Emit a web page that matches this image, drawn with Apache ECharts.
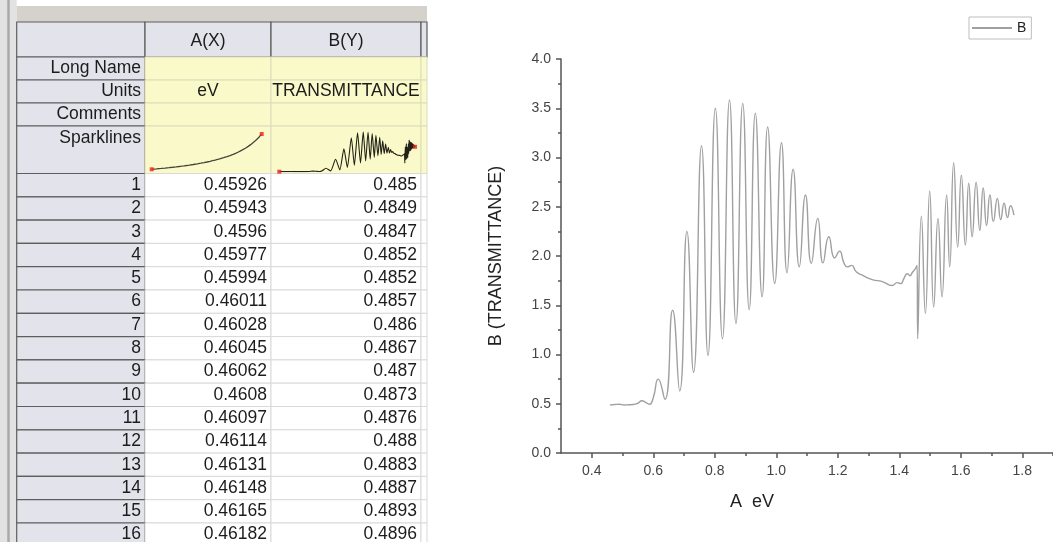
<!DOCTYPE html>
<html>
<head>
<meta charset="utf-8">
<style>
  html, body { margin: 0; padding: 0; background: #ffffff; }
  #chart { width: 1053px; height: 542px; }
</style>
<script src="https://cdn.jsdelivr.net/npm/echarts@6/dist/echarts.min.js"></script>
</head>
<body>
<div id="chart"></div>
<script>
// Photon energy (eV) and transmittance; the first 16 rows are also listed in the worksheet.
const eV = [
  0.45926, 0.45943, 0.4596, 0.45977, 0.45994, 0.46011, 0.46028, 0.46045,
  0.46062, 0.4608, 0.46097, 0.46114, 0.46131, 0.46148, 0.46165, 0.46182,
  0.475, 0.49, 0.505, 0.52, 0.535, 0.55, 0.563, 0.575, 0.588, 0.60,
  0.616, 0.638, 0.663, 0.686, 0.7095, 0.731, 0.757, 0.778, 0.802, 0.825,
  0.848, 0.869, 0.891, 0.912, 0.932, 0.954, 0.972, 0.995, 1.017, 1.035,
  1.055, 1.075, 1.095, 1.114, 1.135, 1.152, 1.171, 1.19, 1.206, 1.22,
  1.231, 1.245, 1.26, 1.28, 1.312, 1.345, 1.377, 1.393, 1.405, 1.415,
  1.426, 1.435, 1.442, 1.452, 1.458, 1.46, 1.472, 1.485, 1.499, 1.512,
  1.526, 1.539, 1.554, 1.564, 1.577, 1.59, 1.602, 1.615, 1.626, 1.637,
  1.65, 1.662, 1.673, 1.684, 1.695, 1.706, 1.719, 1.73, 1.741, 1.752,
  1.762, 1.773
];
const transmittance = [
  0.485, 0.4849, 0.4847, 0.4852, 0.4852, 0.4857, 0.486, 0.4867,
  0.487, 0.4873, 0.4876, 0.488, 0.4883, 0.4887, 0.4893, 0.4896,
  0.492, 0.495, 0.488, 0.49, 0.492, 0.505, 0.53, 0.515, 0.495, 0.56,
  0.75, 0.545, 1.45, 0.63, 2.25, 0.82, 3.12, 0.99, 3.50, 1.16,
  3.585, 1.315, 3.55, 1.455, 3.45, 1.585, 3.31, 1.72, 3.15, 1.83,
  2.88, 1.89, 2.62, 1.925, 2.38, 1.93, 2.195, 1.98, 2.05, 1.93,
  1.89, 1.905, 1.84, 1.805, 1.76, 1.74, 1.70, 1.73, 1.72, 1.77,
  1.82, 1.80, 1.83, 1.87, 1.905, 1.16, 2.405, 1.417, 2.66, 1.48,
  2.38, 1.585, 2.62, 1.89, 2.947, 2.09, 2.82, 2.11, 2.74, 2.195,
  2.75, 2.26, 2.69, 2.31, 2.62, 2.35, 2.585, 2.37, 2.535, 2.39,
  2.51, 2.415
];

// Worksheet contents
const tableRowCount = 16;
const columnHeaders = ['A(X)', 'B(Y)'];
const metaLabels = ['Long Name', 'Units', 'Comments', 'Sparklines'];
const unitsRow = ['eV', 'TRANSMITTANCE'];

// Axis ticks of the plot
const xLabelTicks = [0.4, 0.6, 0.8, 1.0, 1.2, 1.4, 1.6, 1.8];
const xMinorTicks = [0.5, 0.7, 0.9, 1.1, 1.3, 1.5, 1.7, 1.9];

const FONT = '"Liberation Sans", Arial, sans-serif';

// ---- worksheet drawn as graphic elements ----
const colEdges = [16.7, 145, 271, 421, 427];
const headerTop = 22, headerBottom = 57;
const metaEdges = [57, 80, 103, 126, 173.5];
const rowTop = 173.5, rowH = 23.3;

const HEAD_FILL = '#e3e3eb', HEAD_STROKE = '#5e5e5e';
const META_FILL = '#f9f9c9', META_STROKE = '#dcdcbc';
const CELL_STROKE = '#d9d9d9';

function rect(x, y, w, h, fill, stroke, lw) {
  return { type: 'rect', silent: true, z: 0,
    shape: { x: x, y: y, width: w, height: h },
    style: { fill: fill, stroke: stroke || null, lineWidth: lw || 1 } };
}
function text(x, y, str, align, vAlign) {
  return { type: 'text', silent: true, z: 1, x: x, y: y,
    style: { text: str, fill: '#1c1c1c', font: '17.5px ' + FONT,
      align: align, verticalAlign: vAlign || 'middle',
      textAlign: align, textVerticalAlign: vAlign || 'middle' } };
}

const els = [];
// window frame on the left and above the sheet
els.push(rect(0, 0, colEdges[0], 542, '#e2e2e2'));
els.push({ type: 'line', silent: true, z: 0, shape: { x1: 8.5, y1: 0, x2: 8.5, y2: 542 },
  style: { stroke: '#a9a9a9', lineWidth: 2.5 } });
els.push(rect(colEdges[0], 6, colEdges[4] - colEdges[0], headerTop - 6, '#d5d2cc'));

// column header row
for (let c = 0; c < 4; c++) {
  els.push(rect(colEdges[c], headerTop, colEdges[c + 1] - colEdges[c], headerBottom - headerTop,
    HEAD_FILL, HEAD_STROKE, 1.2));
}
columnHeaders.forEach(function (h, i) {
  els.push(text((colEdges[i + 1] + colEdges[i + 2]) / 2, 41, h, 'center'));
});

// label rows (Long Name, Units, Comments, Sparklines)
metaLabels.forEach(function (lab, r) {
  const y0 = metaEdges[r], y1 = metaEdges[r + 1];
  els.push(rect(colEdges[0], y0, colEdges[1] - colEdges[0], y1 - y0, HEAD_FILL, HEAD_STROKE, 1.2));
  for (let c = 1; c < 4; c++) {
    els.push(rect(colEdges[c], y0, colEdges[c + 1] - colEdges[c], y1 - y0, META_FILL, META_STROKE, 1));
  }
  if (lab === 'Sparklines') {
    els.push(text(colEdges[1] - 4, y0 + 3, lab, 'right', 'top'));
  } else {
    els.push(text(colEdges[1] - 4, (y0 + y1) / 2, lab, 'right'));
  }
});
unitsRow.forEach(function (u, i) {
  els.push(text((colEdges[i + 1] + colEdges[i + 2]) / 2, (metaEdges[1] + metaEdges[2]) / 2, u, 'center'));
});

// data rows
for (let r = 0; r < tableRowCount; r++) {
  const y0 = rowTop + r * rowH;
  els.push(rect(colEdges[0], y0, colEdges[1] - colEdges[0], rowH, HEAD_FILL, HEAD_STROKE, 1.2));
  for (let c = 1; c < 4; c++) {
    els.push(rect(colEdges[c], y0, colEdges[c + 1] - colEdges[c], rowH, '#ffffff', CELL_STROKE, 1));
  }
  const yc = y0 + rowH / 2;
  els.push(text(colEdges[1] - 4, yc, String(r + 1), 'right'));
  els.push(text(colEdges[2] - 4, yc, String(eV[r]), 'right'));
  els.push(text(colEdges[3] - 4, yc, String(transmittance[r]), 'right'));
}

// ---- series data ----
const mainData = eV.map(function (e, i) { return [e, transmittance[i]]; });
// sparklines run along the worksheet rows, which step evenly in wavelength (nm)
const sparkA = eV.map(function (e) { return [1240 / e, e]; });
const sparkB = eV.map(function (e, i) { return [1240 / e, transmittance[i]]; });
const last = eV.length - 1;

const chart = echarts.init(document.getElementById('chart'), null, { renderer: 'canvas' });

const axisLineStyle = { color: '#555', width: 1.5 };
const hiddenAxis = { show: false, type: 'value', scale: true, min: 'dataMin', max: 'dataMax' };

chart.setOption({
  animation: false,
  backgroundColor: '#ffffff',
  textStyle: { fontFamily: FONT },
  graphic: { elements: els },
  legend: {
    data: [{ name: 'B', icon: 'rect' }],
    left: 969, top: 17,
    itemWidth: 40, itemHeight: 2,
    padding: [3, 5, 3, 3],
    borderColor: '#bdbdbd', borderWidth: 1,
    textStyle: { fontSize: 14, color: '#222', fontFamily: FONT, lineHeight: 16 }
  },
  grid: [
    { left: 561, top: 59, width: 492, height: 394 },
    { left: 561, top: 59, width: 492, height: 394 },
    { left: 151.7, top: 134, width: 110, height: 35.3 },
    { left: 279.3, top: 131.7, width: 135.7, height: 40 }
  ],
  xAxis: [
    {
      gridIndex: 0, type: 'value', min: 0.3, max: 1.9,
      name: 'A  eV', nameLocation: 'middle', nameGap: 40,
      nameTextStyle: { fontSize: 18, color: '#222', padding: [0, 110, 0, 0] },
      axisLine: { onZero: false, lineStyle: axisLineStyle },
      axisTick: { customValues: xLabelTicks, length: 5, lineStyle: axisLineStyle },
      axisLabel: { customValues: xLabelTicks, fontSize: 14, color: '#444', margin: 11,
        formatter: function (v) { return v.toFixed(1); } },
      splitLine: { show: false }
    },
    {
      gridIndex: 1, type: 'value', min: 0.3, max: 1.9,
      axisLine: { show: false },
      axisTick: { customValues: xMinorTicks, length: 3, lineStyle: axisLineStyle },
      axisLabel: { show: false },
      splitLine: { show: false }
    },
    Object.assign({ gridIndex: 2, inverse: true }, hiddenAxis),
    Object.assign({ gridIndex: 3, inverse: true }, hiddenAxis)
  ],
  yAxis: [
    {
      gridIndex: 0, type: 'value', min: 0, max: 4, interval: 0.5,
      name: 'B (TRANSMITTANCE)', nameLocation: 'middle', nameGap: 56,
      nameTextStyle: { fontSize: 18, color: '#222' },
      axisLine: { show: true, lineStyle: axisLineStyle },
      axisTick: { show: true, length: 5, lineStyle: axisLineStyle },
      minorTick: { show: true, splitNumber: 2, length: 3, lineStyle: axisLineStyle },
      axisLabel: { fontSize: 14, color: '#444', margin: 10,
        formatter: function (v) { return v.toFixed(1); } },
      splitLine: { show: false }
    },
    { gridIndex: 1, type: 'value', min: 0, max: 4, show: false },
    Object.assign({ gridIndex: 2 }, hiddenAxis),
    Object.assign({ gridIndex: 3 }, hiddenAxis)
  ],
  series: [
    {
      name: 'B', type: 'line', xAxisIndex: 0, yAxisIndex: 0,
      data: mainData, smooth: 0.55, symbol: 'none', z: 3,
      lineStyle: { color: '#a0a0a0', width: 1.4 },
      itemStyle: { color: '#a0a0a0' }
    },
    {
      name: 'sparkA', type: 'line', xAxisIndex: 2, yAxisIndex: 2,
      data: sparkA, symbol: 'none', z: 4,
      lineStyle: { color: '#45453a', width: 1.3 }
    },
    {
      name: 'sparkA ends', type: 'scatter', xAxisIndex: 2, yAxisIndex: 2,
      data: [sparkA[0], sparkA[last]], symbol: 'rect', symbolSize: 4, z: 5,
      itemStyle: { color: '#ee2020' }
    },
    {
      name: 'sparkB', type: 'line', xAxisIndex: 3, yAxisIndex: 3,
      data: sparkB, symbol: 'none', z: 4, smooth: 0.2,
      lineStyle: { color: '#222218', width: 1.1 }
    },
    {
      name: 'sparkB ends', type: 'scatter', xAxisIndex: 3, yAxisIndex: 3,
      data: [sparkB[0], sparkB[last]], symbol: 'rect', symbolSize: 4, z: 5,
      itemStyle: { color: '#ee2020' }
    }
  ]
});
</script>
</body>
</html>
